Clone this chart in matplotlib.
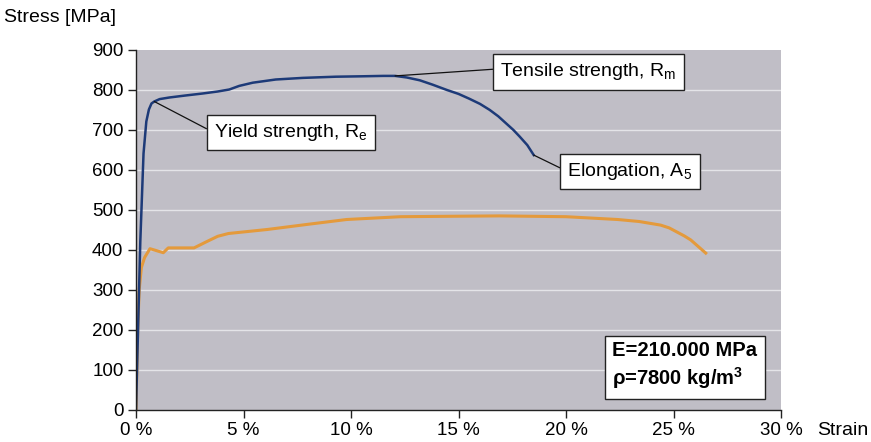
import numpy as np
import matplotlib.pyplot as plt

plt.rcParams['font.family'] = ['Liberation Sans', 'DejaVu Sans']
plt.rcParams['mathtext.fontset'] = 'custom'
plt.rcParams['mathtext.rm'] = 'Liberation Sans'
plt.rcParams['mathtext.bf'] = 'Liberation Sans:bold'

# curve 1 (blue) - strain [%], stress [MPa]
strain_blue = [0, 0.2, 0.35, 0.48, 0.6, 0.72, 0.85, 1.1, 1.55, 2.3, 3.1, 3.8, 4.34, 4.8, 5.43,
               6.5, 7.75, 9.3, 10.5, 11.5, 12.05, 12.6, 13.2, 13.8, 14.45, 15.0, 15.5, 16.0,
               16.45, 16.85, 17.2, 17.55, 17.85, 18.2, 18.5]
stress_blue = [0, 420, 640, 720, 750, 765, 770, 776, 780, 785, 790, 795, 800, 809, 817,
               825, 829, 832, 833, 834, 834, 830, 823, 812, 799, 789, 777, 764,
               749, 733, 716, 699, 682, 661, 636]

# curve 2 (orange)
strain_orange = [0, 0.08, 0.15, 0.25, 0.4, 0.65, 0.9, 1.27, 1.5, 2.7, 3.3, 3.8, 4.3, 6.1, 8,
                 9.8, 12.3, 14.5, 16.9, 20, 22.4, 23.4, 24.4, 24.8, 25.15, 25.5, 25.8, 26.5]
stress_orange = [0, 200, 300, 355, 380, 402, 398, 392, 404, 404, 420, 433, 440, 450, 463,
                 475, 482, 483, 484, 482, 475, 470, 461, 454, 444, 434, 424, 391]

xticks = [0, 5, 10, 15, 20, 25, 30]
yticks = [0, 100, 200, 300, 400, 500, 600, 700, 800, 900]

fig = plt.figure(figsize=(8.71, 4.42), dpi=100)
ax = fig.add_axes([136/871, 32.5/442, 645/871, 360/442])
ax.set_facecolor('#c0bec6')

ax.plot(strain_orange, stress_orange, color='#e49a3c', lw=2.2, solid_joinstyle='round')
ax.plot(strain_blue, stress_blue, color='#1d3a78', lw=1.8, solid_joinstyle='round')

ax.set_xlim(0, 30)
ax.set_ylim(0, 900)
ax.set_xticks(xticks)
ax.set_xticklabels(['{} %'.format(t) for t in xticks])
ax.set_yticks(yticks)
for y in yticks[1:-1]:
    ax.axhline(y, color='#e4e4e8', lw=1, zorder=0.5)

for s in ['top', 'right']:
    ax.spines[s].set_visible(False)
for s in ['left', 'bottom']:
    ax.spines[s].set_color('#222222')
    ax.spines[s].set_linewidth(1)
ax.tick_params(direction='out', length=6, width=1, color='#222222', labelsize=13.5, pad=3)

fig.text(4/871, 1 - 17/442, 'Stress [MPa]', fontsize=14, va='center', ha='left')
ax.annotate('Strain', xy=(1.056, 0), xycoords='axes fraction', xytext=(0, -9),
            textcoords='offset points', fontsize=14, va='top', ha='left')

box = dict(boxstyle='square,pad=0.37', fc='white', ec='#222222', lw=1)
line = dict(arrowstyle='-', color='#111111', lw=0.9, shrinkA=0, shrinkB=0)

ax.annotate('Yield strength, R$_\\mathregular{e}$', xy=(0.85, 770), xytext=(7.2, 692),
            fontsize=14, ha='center', va='center', bbox=box,
            arrowprops=dict(line, relpos=(0, 0.5)))
ax.annotate('Tensile strength, R$_\\mathregular{m}$', xy=(12.05, 834), xytext=(21.05, 844),
            fontsize=14, ha='center', va='center', bbox=box,
            arrowprops=dict(line, relpos=(0, 0.65)))
ax.annotate('Elongation, A$_\\mathregular{5}$', xy=(18.5, 636), xytext=(22.98, 595),
            fontsize=14, ha='center', va='center', bbox=box,
            arrowprops=dict(line, relpos=(0, 0.5)))

ax.text(22.15, 108, 'E=210.000 MPa\n\u03c1=7800 kg/m$^\\mathregular{3}$', fontsize=14.5,
        fontweight='bold', ha='left', va='center', linespacing=1.25,
        bbox=dict(boxstyle='square,pad=0.38', fc='white', ec='#222222', lw=1))

fig.savefig('out.png', dpi=100)
